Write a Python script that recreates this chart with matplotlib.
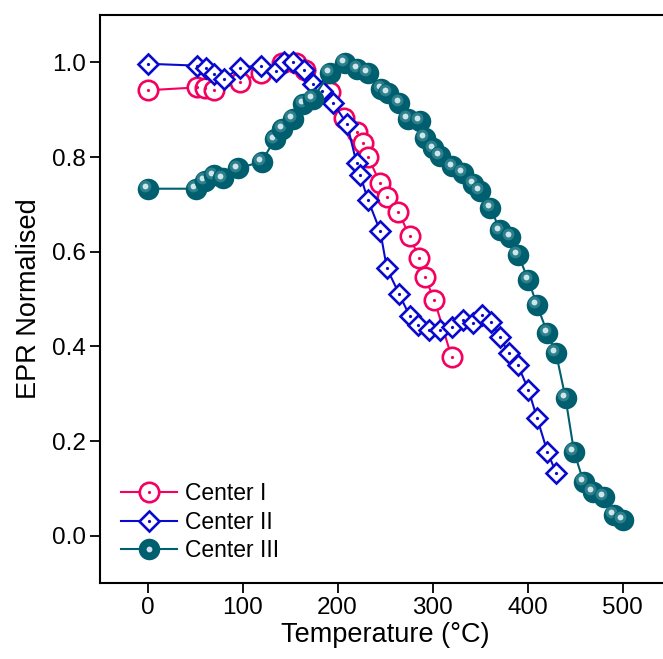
import matplotlib
matplotlib.use("Agg")
import matplotlib.pyplot as plt
from matplotlib.lines import Line2D
from matplotlib.legend_handler import HandlerTuple
from matplotlib.transforms import ScaledTranslation

# Center I (red open circles)
temp_c1 = [0, 52, 60, 70, 97, 119, 142, 156, 166, 192, 207, 221, 227, 232,
           245, 252, 264, 276, 286, 292, 302, 320]
epr_c1 = [0.941, 0.947, 0.945, 0.941, 0.958, 0.977, 0.998, 0.998, 0.983, 0.937,
          0.882, 0.852, 0.829, 0.800, 0.745, 0.715, 0.684, 0.633, 0.586, 0.546,
          0.498, 0.378]

# Center II (blue open diamonds)
temp_c2 = [0, 52, 62, 70, 81, 97, 119, 135, 144, 153, 165, 174, 184, 195, 210,
           220, 224, 232, 245, 252, 265, 276, 285, 296, 308, 320, 332, 343, 352,
           362, 371, 380, 390, 401, 410, 421, 430]
epr_c2 = [0.997, 0.993, 0.989, 0.976, 0.965, 0.989, 0.993, 0.982, 1.000, 1.000,
          0.983, 0.955, 0.940, 0.915, 0.870, 0.788, 0.761, 0.710, 0.643, 0.565,
          0.510, 0.464, 0.445, 0.434, 0.434, 0.440, 0.455, 0.449, 0.466, 0.451,
          0.420, 0.386, 0.360, 0.308, 0.249, 0.177, 0.133]

# Center III (teal spheres)
temp_c3 = [0, 51, 60, 70, 79, 95, 120, 134, 142, 153, 164, 174, 192, 208, 221,
           232, 246, 253, 265, 274, 287, 292, 301, 308, 321, 332, 343, 350, 361,
           371, 382, 390, 401, 410, 421, 430, 440, 449, 459, 469, 480, 491, 500]
epr_c3 = [0.733, 0.733, 0.750, 0.761, 0.755, 0.776, 0.790, 0.837, 0.860, 0.881,
          0.913, 0.923, 0.978, 0.999, 0.986, 0.978, 0.944, 0.936, 0.915, 0.881,
          0.877, 0.841, 0.818, 0.803, 0.780, 0.767, 0.744, 0.729, 0.693, 0.645,
          0.632, 0.594, 0.540, 0.487, 0.428, 0.386, 0.291, 0.177, 0.114, 0.093,
          0.082, 0.044, 0.034]

RED = "#F5005F"
BLUE = "#0A0ACD"
TEAL = "#005F6E"

plt.rcParams["font.family"] = ["Liberation Sans", "DejaVu Sans"]

fig = plt.figure(figsize=(6.63, 6.59), dpi=100)
ax = fig.add_axes([100 / 663, 76 / 659, 570 / 663, 568 / 659])

# Center I
ax.plot(temp_c1, epr_c1, "-", color=RED, lw=1.5, zorder=2)
ax.plot(temp_c1, epr_c1, "o", ms=14, mfc="white", mec=RED, mew=1.9, zorder=2)
ax.plot(temp_c1, epr_c1, "o", ms=2.3, color=RED, mew=0, zorder=2)

# Center II
ax.plot(temp_c2, epr_c2, "-", color=BLUE, lw=1.5, zorder=3)
ax.plot(temp_c2, epr_c2, "D", ms=10.5, mfc="white", mec=BLUE, mew=1.9, zorder=3)
ax.plot(temp_c2, epr_c2, "o", ms=2.3, color=BLUE, mew=0, zorder=3)

# Center III - shaded balls, drawn one by one so overlaps look right
ax.plot(temp_c3, epr_c3, "-", color=TEAL, lw=1.5, zorder=4)
shift = ax.transData + ScaledTranslation(-0.027, 0.027, fig.dpi_scale_trans)
for i, (t, e) in enumerate(zip(temp_c3, epr_c3)):
    z = 4 + i * 0.001
    ax.plot(t, e, "o", ms=15.5, color=TEAL, mew=0, zorder=z)
    ax.plot(t, e, "o", ms=8.5, color="#2E7F8C", mew=0, zorder=z, transform=shift)
    ax.plot(t, e, "o", ms=4.2, color="#CDE6EA", mew=0, zorder=z, transform=shift)

ax.set_xlim(-50, 550)
ax.set_ylim(-0.1, 1.1)
ax.set_xticks([0, 100, 200, 300, 400, 500])
ax.set_yticks([0.0, 0.2, 0.4, 0.6, 0.8, 1.0])
ax.set_yticklabels(["0.0", "0.2", "0.4", "0.6", "0.8", "1.0"])
ax.tick_params(direction="out", length=7, width=1.3, labelsize=17.5, pad=3)
for s in ax.spines.values():
    s.set_linewidth(1.5)
ax.set_xlabel("Temperature (°C)", fontsize=19.5, labelpad=2)
ax.set_ylabel("EPR Normalised", fontsize=19.5, labelpad=7)

h1 = (Line2D([], [], color=RED, lw=1.5, marker="o", ms=14, mfc="white", mec=RED, mew=1.9),
      Line2D([], [], ls="none", marker="o", ms=2.3, color=RED, mew=0))
h2 = (Line2D([], [], color=BLUE, lw=1.5, marker="D", ms=10.5, mfc="white", mec=BLUE, mew=1.9),
      Line2D([], [], ls="none", marker="o", ms=2.3, color=BLUE, mew=0))
h3 = (Line2D([], [], color=TEAL, lw=1.5, marker="o", ms=15.5, mew=0),
      Line2D([], [], ls="none", marker="o", ms=4.2, color="#CDE6EA", mew=0))
ax.legend([h1, h2, h3], ["Center I", "Center II", "Center III"],
          handler_map={tuple: HandlerTuple(ndivide=1)},
          loc="lower left", bbox_to_anchor=(0.0, 0.0), frameon=False,
          fontsize=16.5, handlelength=2.45, handletextpad=0.35,
          labelspacing=0.25, borderaxespad=0.5)

fig.savefig("out.png", dpi=100)
